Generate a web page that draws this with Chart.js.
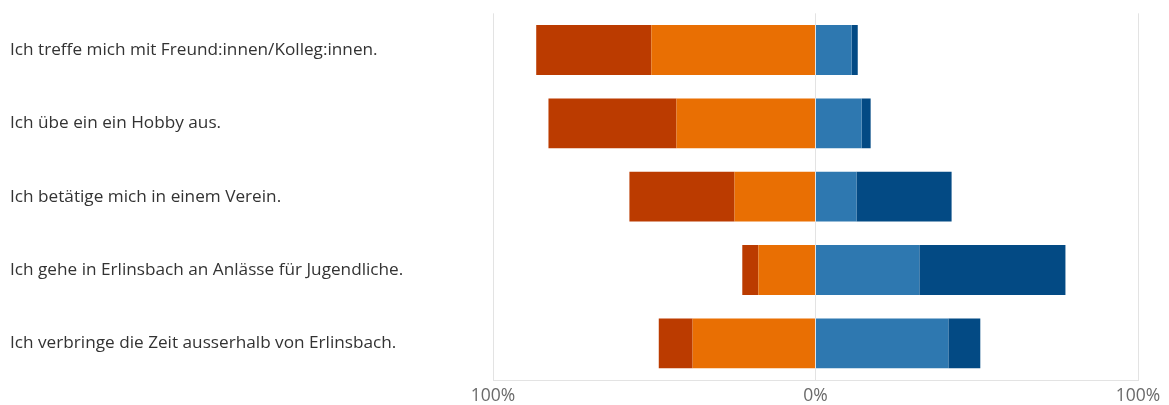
<!DOCTYPE html>
<html>
<head>
<meta charset="utf-8">
<script src="https://cdn.jsdelivr.net/npm/chart.js@4"></script>
<style>
html,body{margin:0;padding:0;background:#fff;}
#wrap{width:1169px;height:405px;position:relative;}
</style>
</head>
<body>
<div id="wrap"><canvas id="c"></canvas></div>
<script>
const categories = [
  "Ich treffe mich mit Freund:innen/Kolleg:innen.",
  "Ich übe ein ein Hobby aus.",
  "Ich betätige mich in einem Verein.",
  "Ich gehe in Erlinsbach an Anlässe für Jugendliche.",
  "Ich verbringe die Zeit ausserhalb von Erlinsbach."
];
// negative side (left), values in %
const darkRed = [35.7, 39.7, 32.6, 5.0, 10.5];
const orange  = [50.9, 43.1, 25.1, 17.7, 38.1];
// positive side (right)
const blue     = [11.2, 14.3, 12.7, 32.2, 41.2];
const darkBlue = [1.9, 2.8, 29.5, 45.3, 9.9];
const tickLabels = {"-100": "100%", "0": "0%", "100": "100%"};

const neg = a => a.map(v => -v);

new Chart(document.getElementById('c'), {
  type: 'bar',
  data: {
    labels: categories,
    datasets: [
      {label: 'orange', data: neg(orange), backgroundColor: '#e96f03'},
      {label: 'darkRed', data: neg(darkRed), backgroundColor: '#bb3b00'},
      {label: 'blue', data: blue, backgroundColor: '#2e78b0'},
      {label: 'darkBlue', data: darkBlue, backgroundColor: '#034a84'}
    ]
  },
  options: {
    indexAxis: 'y',
    responsive: true,
    maintainAspectRatio: false,
    animation: false,
    layout: {padding: {left: 10, right: 31, top: 10, bottom: 0}},
    datasets: {bar: {categoryPercentage: 1, barPercentage: 0.68}},
    plugins: {legend: {display: false}, tooltip: {enabled: false}},
    scales: {
      x: {
        stacked: true,
        min: -100, max: 100,
        ticks: {
          stepSize: 100,
          color: '#6a6a6a',
          font: {family: 'Open Sans', size: 17.5},
          padding: 6,
          maxRotation: 0,
          callback: v => tickLabels[String(v)] ?? ''
        },
        grid: {color: '#e3e3e3', drawTicks: false, lineWidth: 1},
        border: {display: true, color: '#e3e3e3'},
        afterFit: s => { s.height = 25; }
      },
      y: {
        stacked: true,
        ticks: {
          crossAlign: 'far',
          color: '#333',
          font: {family: 'Open Sans', size: 17.2}
        },
        grid: {display: false},
        border: {display: false},
        afterFit: s => { s.width = 483; }
      }
    }
  }
});
</script>
</body>
</html>
